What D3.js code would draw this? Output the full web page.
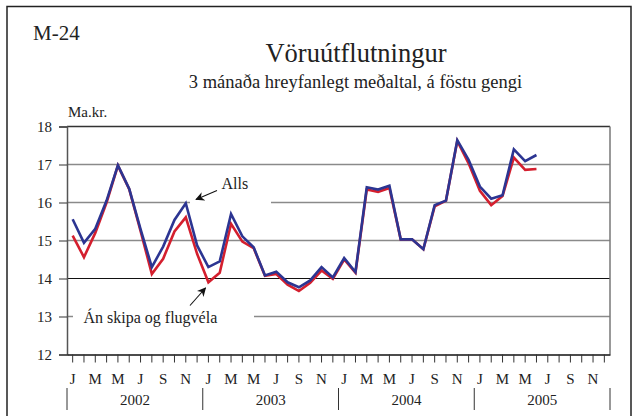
<!DOCTYPE html>
<html>
<head>
<meta charset="utf-8">
<script src="https://cdn.jsdelivr.net/npm/d3@7"></script>
<style>
  html, body { margin: 0; padding: 0; background: #fff; }
  svg { display: block; font-family: "Liberation Serif", "Times New Roman", serif; }
</style>
</head>
<body>
<svg id="chart" width="636" height="416"></svg>
<script>
// ---- Data ----
const years = ["2002", "2003", "2004", "2005"];
const monthLetters = ["J", "", "M", "", "M", "", "J", "", "S", "", "N", ""];
const yTicks = [12, 13, 14, 15, 16, 17, 18];
// Monthly values Jan 2002 - Jun 2005 (Ma.kr.)
const alls = [15.56, 14.94, 15.31, 16.05, 16.98, 16.36, 15.30, 14.30, 14.84, 15.54, 15.98, 14.87,
              14.30, 14.45, 15.70, 15.11, 14.82, 14.08, 14.18, 13.90, 13.77, 13.95, 14.30, 14.03,
              14.54, 14.17, 16.40, 16.34, 16.44, 15.03, 15.03, 14.77, 15.93, 16.05, 17.64, 17.12,
              16.42, 16.10, 16.19, 17.40, 17.09, 17.25];
const anSkipa = [15.13, 14.56, 15.20, 16.00, 16.97, 16.35, 15.25, 14.12, 14.52, 15.24, 15.61, 14.65,
                 13.90, 14.15, 15.44, 14.97, 14.80, 14.07, 14.12, 13.84, 13.67, 13.89, 14.21, 13.99,
                 14.50, 14.15, 16.34, 16.28, 16.38, 15.03, 15.03, 14.77, 15.90, 16.05, 17.62, 17.03,
                 16.31, 15.93, 16.17, 17.18, 16.86, 16.88];

const svg = d3.select("#chart");
const pLeft = 67, pRight = 610, pTop = 126.5, pBottom = 354.5;
const nMonths = years.length * 12;

const x = d3.scaleBand().domain(d3.range(nMonths)).range([pLeft, pRight]).padding(0);
const xc = i => x(i) + x.bandwidth() / 2;
const y = d3.scaleLinear().domain([12, 18]).range([pBottom, pTop]);

// outer frame
svg.append("path")
  .attr("d", `M7,420 L7,6.5 L631,6.5 L631,420`)
  .attr("fill", "none").attr("stroke", "#222").attr("stroke-width", 1.5);

// titles
svg.append("text").attr("x", 33).attr("y", 40).attr("font-size", 21).attr("fill", "#222").text("M-24");
svg.append("text").attr("x", 356).attr("y", 61.5).attr("text-anchor", "middle")
  .attr("font-size", 26.5).attr("fill", "#222").text("Vöruútflutningur");
svg.append("text").attr("x", 355.5).attr("y", 87.5).attr("text-anchor", "middle")
  .attr("font-size", 18.5).attr("fill", "#222").text("3 mánaða hreyfanlegt meðaltal, á föstu gengi");
svg.append("text").attr("x", 68).attr("y", 117).attr("font-size", 15).attr("fill", "#222").text("Ma.kr.");

// gridlines
const gridStyle = v => v === 14 ? { c: "#111", w: 1.2 } : v === 18 ? { c: "#333", w: 1.5 } : { c: "#8a8a8a", w: 1.6 };
svg.append("g").selectAll("line").data(yTicks.filter(v => v > 12)).join("line")
  .attr("x1", pLeft).attr("x2", pRight)
  .attr("y1", d => y(d)).attr("y2", d => y(d))
  .attr("stroke", d => gridStyle(d).c).attr("stroke-width", d => gridStyle(d).w);

// right border
svg.append("line").attr("x1", pRight).attr("x2", pRight).attr("y1", pTop).attr("y2", pBottom)
  .attr("stroke", "#777").attr("stroke-width", 1.5);

// gaps for annotation labels
svg.append("rect").attr("x", 190).attr("y", y(16) - 5).attr("width", 81).attr("height", 10).attr("fill", "#fff");
svg.append("rect").attr("x", 73).attr("y", y(13) - 5).attr("width", 181).attr("height", 10).attr("fill", "#fff");

// axes
const yAxis = svg.append("g").attr("transform", `translate(${pLeft},0)`)
  .call(d3.axisLeft(y).tickValues(yTicks).tickFormat(d3.format("d")).tickSize(8).tickPadding(7));
yAxis.select(".domain").attr("stroke", "#555").attr("stroke-width", 1.5);
yAxis.selectAll(".tick line").attr("stroke", "#333").attr("stroke-width", 1);
yAxis.selectAll("text").attr("font-size", 15).attr("fill", "#222")
  .attr("font-family", "Liberation Serif, serif");

const xAxis = svg.append("g").attr("transform", `translate(0,${pBottom})`)
  .call(d3.axisBottom(x).tickValues(d3.range(nMonths)).tickFormat(i => monthLetters[i % 12])
    .tickSize(8).tickPadding(11).tickSizeOuter(0));
xAxis.select(".domain").attr("stroke", "#111").attr("stroke-width", 1.3);
xAxis.selectAll(".tick line").attr("stroke", "#333").attr("stroke-width", 1);
xAxis.selectAll("text").attr("font-size", 15).attr("fill", "#222")
  .attr("font-family", "Liberation Serif, serif");

// year separators and labels
const yearEdges = d3.range(years.length + 1).map(k => pLeft + (pRight - pLeft) * k / years.length);
svg.append("g").selectAll("line").data(yearEdges).join("line")
  .attr("x1", d => d).attr("x2", d => d).attr("y1", 388).attr("y2", 410)
  .attr("stroke", "#333").attr("stroke-width", 1);
svg.append("g").selectAll("text").data(years).join("text")
  .attr("x", (d, k) => (xc(k * 12) + xc(k * 12 + 11)) / 2)
  .attr("y", 404.5).attr("text-anchor", "middle").attr("font-size", 15).attr("fill", "#222")
  .text(d => d);

// data lines
const line = d3.line().x((d, i) => xc(i)).y(d => y(d));
svg.append("path").datum(anSkipa).attr("d", line).attr("fill", "none")
  .attr("stroke", "#d41f2e").attr("stroke-width", 2.6).attr("stroke-linejoin", "miter");
svg.append("path").datum(alls).attr("d", line).attr("fill", "none")
  .attr("stroke", "#2c3592").attr("stroke-width", 2.6).attr("stroke-linejoin", "miter");

// annotations
const defs = svg.append("defs");
defs.append("marker").attr("id", "arrow").attr("viewBox", "0 0 10 10")
  .attr("refX", 9).attr("refY", 5).attr("markerWidth", 9).attr("markerHeight", 9)
  .attr("markerUnits", "userSpaceOnUse").attr("orient", "auto")
  .append("path").attr("d", "M0,0 L10,5 L0,10 L3,5 Z").attr("fill", "#111");

svg.append("line").attr("x1", 217).attr("y1", 190.5).attr("x2", 196).attr("y2", 199.5)
  .attr("stroke", "#111").attr("stroke-width", 1.1).attr("marker-end", "url(#arrow)");
svg.append("text").attr("x", 221.5).attr("y", 189).attr("font-size", 16).attr("fill", "#222").text("Alls");

svg.append("line").attr("x1", 190).attr("y1", 305.5).attr("x2", 205.5).attr("y2", 288)
  .attr("stroke", "#111").attr("stroke-width", 1.1).attr("marker-end", "url(#arrow)");
svg.append("text").attr("x", 83.5).attr("y", 322.5).attr("font-size", 16).attr("fill", "#222").text("Án skipa og flugvéla");
</script>
</body>
</html>
